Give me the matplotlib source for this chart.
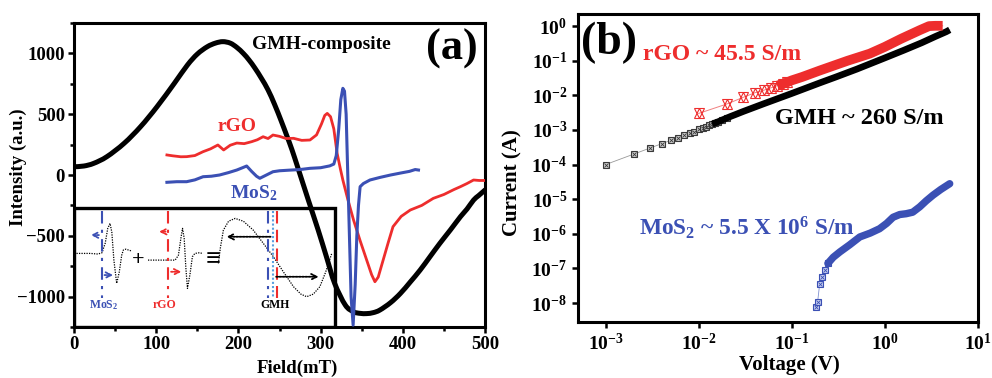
import numpy as np
import matplotlib
matplotlib.use("Agg")
import matplotlib.pyplot as plt
from matplotlib.patches import Rectangle, PathPatch
from matplotlib.path import Path
from matplotlib.ticker import MultipleLocator, FixedLocator, FuncFormatter, NullLocator

plt.rcParams['font.family'] = ['Liberation Serif', 'DejaVu Serif']
plt.rcParams['font.weight'] = 'bold'
plt.rcParams['mathtext.fontset'] = 'custom'
plt.rcParams['mathtext.rm'] = 'Liberation Serif:bold'
plt.rcParams['mathtext.bf'] = 'Liberation Serif:bold'
plt.rcParams['mathtext.it'] = 'Liberation Serif:bold:italic'
plt.rcParams['mathtext.default'] = 'bf'

# ---------------- Panel (a) data: EPR spectra ----------------
GMH_FIELD = [0, 12, 24, 40, 61, 81, 101, 122, 138, 150, 162, 172, 181, 190, 198, 206, 213, 220, 228, 236,
             244, 252, 259, 265, 273, 285, 297, 307, 317, 330, 340, 348, 356, 364, 372, 385, 397, 409,
             421, 433, 445, 458, 470, 478, 486, 492, 500]
GMH_INT = [68, 74, 96, 151, 261, 398, 562, 754, 905, 995, 1055, 1085, 1097, 1085, 1050, 1000, 945, 880, 795, 700,
           580, 445, 320, 210, 45, -206, -453, -672, -891, -1070, -1125, -1138, -1140, -1132, -1111, -1050, -974, -880,
           -782, -672, -562, -450, -343, -280, -206, -170, -123]

RGO_FIELD = [113, 120, 130, 137, 147, 157, 166, 175, 182, 190, 198, 207, 216, 223, 230, 236, 242, 250, 258, 267,
             277, 287, 295, 301, 305, 308, 312, 316, 320, 324, 327, 333, 340, 348, 356, 362, 366, 370, 376,
             382, 388, 398, 409, 423, 437, 450, 462, 470, 478, 486, 493, 500]
RGO_INT = [165, 158, 150, 151, 160, 192, 215, 247, 206, 245, 263, 258, 274, 290, 315, 300, 329, 318, 300, 302,
           285, 288, 330, 420, 490, 507, 480, 380, 180, 50, -41, -200, -370, -540, -700, -820, -878, -840, -700,
           -560, -425, -340, -288, -250, -192, -160, -120, -96, -70, -41, -45, -45]

MOS2_FIELD = [113, 125, 137, 147, 157, 167, 177, 188, 198, 205, 210, 216, 222, 226, 234, 242, 250, 262, 275,
              287, 300, 311, 316, 319, 322, 324.5, 327, 329, 331, 333, 335, 337, 339.5, 342, 344, 346, 348,
              352, 360, 372, 385, 397, 408, 415, 419]
MOS2_INT = [-60, -55, -55, -40, -14, -10, 0, 20, 41, 60, 74, 30, -10, -27, 0, 27, 35, 40, 45,
            55, 60, 75, 90, 160, 380, 620, 713, 690, 500, 0, -500, -1000, -1235, -900, -500, -250, -96,
            -70, -41, -20, 0, 16, 30, 45, 41]

# inset schematic (drawn in panel-a data units)
INS_MOS2_X = [3, 20, 29, 34, 38, 41, 43.8, 46, 48.5, 51.9, 55, 58, 60, 63, 70]
INS_MOS2_Y = [-645, -645, -650, -640, -560, -440, -398, -470, -700, -891, -800, -660, -617, -610, -625]
INS_RGO_X = [90, 110, 123, 127, 130, 132, 134, 136, 138, 141, 144, 147, 152, 157]
INS_RGO_Y = [-700, -700, -700, -660, -520, -439, -520, -760, -933, -820, -672, -645, -640, -645]
INS_GMH_X = [175.6, 178, 181.7, 188, 196, 206, 218, 230, 242.5, 255, 267, 276, 283, 291, 299, 306, 313.5]
INS_GMH_Y = [-727, -600, -453, -380, -357, -380, -453, -560, -672, -800, -919, -980, -1001, -980, -919, -800, -645]

# ---------------- Panel (b) data: I-V curves ----------------
GMH_V = [0.001, 0.002, 0.003, 0.004, 0.005, 0.006, 0.007, 0.008, 0.009, 0.010, 0.011, 0.012, 0.013,
         0.014, 0.015, 0.016, 0.018, 0.020, 0.022, 0.025, 0.03, 0.05, 0.1, 0.2, 0.3, 0.5, 1.0, 1.6,
         2.5, 3.5, 4.6, 5.0]
GMH_I = [1e-4, 2e-4, 3e-4, 4e-4, 5e-4, 6e-4, 7e-4, 8e-4, 9e-4, 1.05e-3, 1.15e-3, 1.25e-3, 1.36e-3,
         1.47e-3, 1.6e-3, 1.7e-3, 1.95e-3, 2.2e-3, 2.45e-3, 2.8e-3, 3.4e-3, 5.7e-3, 0.0113, 0.0228, 0.034,
         0.057, 0.12, 0.2, 0.33, 0.5, 0.69, 0.78]

RGO_V = [0.01, 0.02, 0.03, 0.04, 0.05, 0.06, 0.07, 0.08, 0.09, 0.10, 0.13, 0.2, 0.4, 0.69, 1.0, 1.5,
         2.4, 3.0, 3.5, 4.2]
RGO_I = [3.0e-3, 5.6e-3, 8.7e-3, 0.0118, 0.014, 0.0165, 0.019, 0.0215, 0.024, 0.027, 0.034, 0.052,
         0.10, 0.16, 0.25, 0.43, 0.77, 1.0, 1.02, 1.02]

MOS2_V = [0.184, 0.19, 0.20, 0.21, 0.226, 0.245, 0.28, 0.33, 0.42, 0.54, 0.7, 0.88, 1.05, 1.23, 1.45,
          1.7, 2.0, 2.38, 2.8, 3.3, 4.0, 5.0]
MOS2_I = [7.8e-9, 1.07e-8, 3.6e-8, 5.6e-8, 8.9e-8, 1.4e-7, 2.1e-7, 3.0e-7, 4.8e-7, 8.1e-7, 1.05e-6,
          1.4e-6, 2.0e-6, 3.0e-6, 3.6e-6, 3.8e-6, 4.2e-6, 6.0e-6, 9e-6, 1.3e-5, 1.9e-5, 2.8e-5]

RED = '#ee2d2d'
BLUE = '#3b50b4'


def smooth_path(xs, ys):
    """Catmull-Rom curve through the given points, as a cubic Bezier path."""
    p = np.column_stack([xs, ys]).astype(float)
    pts = [p[0]]
    codes = [Path.MOVETO]
    n = len(p)
    for i in range(n - 1):
        p0 = p[i - 1] if i > 0 else p[i]
        p1, p2 = p[i], p[i + 1]
        p3 = p[i + 2] if i + 2 < n else p[i + 1]
        pts += [p1 + (p2 - p0) / 6.0, p2 - (p3 - p1) / 6.0, p2]
        codes += [Path.CURVE4] * 3
    return Path(pts, codes)


fig = plt.figure(figsize=(9.92, 3.78), dpi=100)

# ================= Panel (a) =================
axa = fig.add_axes([0.0746, 0.135, 0.4144, 0.804])
axa.add_patch(PathPatch(smooth_path(GMH_FIELD, GMH_INT), facecolor='none', edgecolor='black', lw=3.6,
                        capstyle='round', joinstyle='round', zorder=3))
axa.plot(RGO_FIELD, RGO_INT, color=RED, lw=2.0, zorder=4)
axa.plot(MOS2_FIELD, MOS2_INT, color=BLUE, lw=2.2, zorder=5)
axa.set_xlim(0, 500)
axa.set_ylim(-1250, 1250)
axa.xaxis.set_major_locator(MultipleLocator(100))
axa.xaxis.set_minor_locator(MultipleLocator(50))
axa.yaxis.set_major_locator(FixedLocator([-1000, -500, 0, 500, 1000]))
axa.yaxis.set_minor_locator(MultipleLocator(250))
axa.tick_params(which='both', direction='out', width=1.8, labelsize=13.5)
axa.tick_params(which='major', length=4.5, pad=2)
axa.tick_params(which='minor', length=3)
for s in axa.spines.values():
    s.set_linewidth(2.2)

# inset box
axa.add_patch(Rectangle((0, -1250), 318, 978, facecolor='white', edgecolor='black', lw=2.4, zorder=1.5))
dot = dict(color='black', lw=0.9, ls=(0, (1, 1)), zorder=2)
axa.plot(INS_MOS2_X, INS_MOS2_Y, **dot)
axa.plot(INS_RGO_X, INS_RGO_Y, **dot)
axa.plot(INS_GMH_X, INS_GMH_Y, **dot)

def vline(x, c, ls):
    axa.plot([x, x], [-300, -1010], color=c, lw=1.5, ls=ls, zorder=2)

def arrow(x0, x1, y, c):
    axa.annotate('', xy=(x1, y), xytext=(x0, y),
                 arrowprops=dict(arrowstyle='->', color=c, lw=1.3, ls=(0, (1, 0.8))), zorder=2)

vline(33.7, BLUE, (0, (6, 3, 1.5, 3)))
arrow(33.7, 17, -494, BLUE)
arrow(33.7, 51, -823, BLUE)
vline(114.7, RED, (0, (6, 3, 1.5, 3)))
arrow(114.7, 100, -466, RED)
arrow(114.7, 134, -796, RED)
vline(236.4, BLUE, (0, (6, 3, 1.5, 3)))
vline(247.4, RED, (0, (6, 3)))
vline(242.5, '#5aa0e0', (0, (1, 1)))
arrow(242.5, 182, -508, 'black')
arrow(242.5, 301, -837, 'black')
axa.text(36.5, -1070, r'MoS$_2$', color=BLUE, fontsize=8.5, ha='center', va='center', zorder=2)
axa.text(110.7, -1070, 'rGO', color=RED, fontsize=8.5, ha='center', va='center', zorder=2)
axa.text(244.5, -1070, 'GMH', color='black', fontsize=8.5, ha='center', va='center', zorder=2)
axa.text(78, -700, '+', fontsize=16, ha='center', va='center', zorder=2)
axa.text(168.7, -700, '\u2261', fontsize=19, ha='center', va='center', zorder=2)

axa.text(0.602, 0.928, 'GMH-composite', transform=axa.transAxes, fontsize=14, ha='center', va='center')
axa.text(0.920, 0.914, '(a)', transform=axa.transAxes, fontsize=32, ha='center', va='center')
axa.text(0.397, 0.658, 'rGO', transform=axa.transAxes, fontsize=14, color=RED, ha='center', va='center')
axa.text(0.436, 0.440, r'MoS$_2$', transform=axa.transAxes, fontsize=14, color=BLUE, ha='center', va='center')
axa.text(-0.136, 0.526, 'Intensity (a.u.)', transform=axa.transAxes, fontsize=13.5, rotation=90,
         ha='center', va='center')
axa.text(0.544, -0.135, 'Field(mT)', transform=axa.transAxes, fontsize=13.5, ha='center', va='center')

# ================= Panel (b) =================
axb = fig.add_axes([0.5824, 0.148, 0.4032, 0.815])
axb.set_xscale('log')
axb.set_yscale('log')

gv, gi = np.array(GMH_V), np.array(GMH_I)
rv, ri = np.array(RGO_V), np.array(RGO_I)
mv, mi = np.array(MOS2_V), np.array(MOS2_I)

# GMH
axb.plot(gv, gi, color='#999999', lw=0.6, zorder=2)
g_sparse = gv <= 0.02
axb.plot(gv[g_sparse], gi[g_sparse], ls='none', marker='s', ms=4.6, mfc='#cfcfcf', mec='#3a3a3a', mew=0.8, zorder=3)
axb.plot(gv[g_sparse], gi[g_sparse], ls='none', marker='x', ms=3.4, mec='#3a3a3a', mew=0.6, zorder=3)
g_dense = gv >= 0.014
axb.plot(gv[g_dense], gi[g_dense], color='black', lw=4.8, solid_capstyle='butt', zorder=3)

# rGO
axb.plot(rv, ri, color='#f08080', lw=0.7, zorder=4)
r_sparse = rv <= 0.09
for m in ['^', 'v']:
    axb.plot(rv[r_sparse], ri[r_sparse], ls='none', marker=m, ms=7.5, mfc='none', mec=RED, mew=0.8, zorder=4)
r_dense = rv >= 0.07
axb.plot(rv[r_dense], ri[r_dense], color=RED, lw=7.0, solid_capstyle='butt', zorder=4)

# MoS2
axb.plot(mv, mi, color='#8090d0', lw=0.6, zorder=5)
m_sparse = mv <= 0.26
axb.plot(mv[m_sparse], mi[m_sparse], ls='none', marker='s', ms=4.6, mfc='#c8cff0', mec=BLUE, mew=0.8, zorder=5)
axb.plot(mv[m_sparse], mi[m_sparse], ls='none', marker='x', ms=3.4, mec=BLUE, mew=0.6, zorder=5)
m_dense = mv >= 0.245
axb.plot(mv[m_dense], mi[m_dense], color=BLUE, lw=5.3, solid_capstyle='round', zorder=5)

axb.set_xlim(10 ** -3.3, 10 ** 1.0)
axb.set_ylim(10 ** -8.55, 10 ** 0.35)
axb.xaxis.set_major_locator(FixedLocator([1e-3, 1e-2, 1e-1, 1e0, 1e1]))
axb.yaxis.set_major_locator(FixedLocator([10.0 ** k for k in range(-8, 1)]))
axb.xaxis.set_minor_locator(NullLocator())
axb.yaxis.set_minor_locator(NullLocator())
fmt = FuncFormatter(lambda v, p: r'$\mathbf{10^{%d}}$' % int(round(np.log10(v))))
axb.xaxis.set_major_formatter(fmt)
axb.yaxis.set_major_formatter(fmt)
axb.tick_params(which='both', direction='out', width=1.8, length=4.5, labelsize=14)
axb.tick_params(axis='x', pad=3)
axb.tick_params(axis='y', pad=3)
for s in axb.spines.values():
    s.set_linewidth(2.2)

axb.text(0.078, 0.906, '(b)', transform=axb.transAxes, fontsize=33, ha='center', va='center')
axb.text(0.163, 0.867, 'rGO ~ 45.5 S/m', transform=axb.transAxes, fontsize=17, color=RED, ha='left', va='center')
axb.text(0.493, 0.662, 'GMH ~ 260 S/m', transform=axb.transAxes, fontsize=17.5, color='black', ha='left', va='center')
axb.text(0.152, 0.305, r'MoS$_2$ ~ 5.5 X 10$^6$ S/m', transform=axb.transAxes, fontsize=16.8, color=BLUE,
         ha='left', va='center', zorder=6)
axb.text(-0.162, 0.451, 'Current (A)', transform=axb.transAxes, fontsize=15, rotation=90, ha='center', va='center')
axb.text(0.528, -0.14, 'Voltage (V)', transform=axb.transAxes, fontsize=15, ha='center', va='center')

fig.savefig('out.png', dpi=100)
